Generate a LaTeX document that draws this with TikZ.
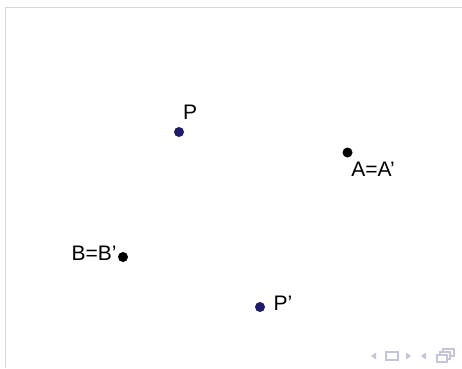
\documentclass[tikz,border=0pt]{standalone}
\usepackage{fontspec}
\setmainfont{Liberation Sans}
\definecolor{navy}{HTML}{1E1A6E}
\definecolor{frame}{HTML}{D8D8D8}
\definecolor{navsym}{HTML}{C4C4DC}
\begin{document}
\begin{tikzpicture}[x=1pt,y=-1pt,
  lbl/.style={inner sep=0pt,font=\fontsize{21}{23}\selectfont},
  dotpt/.style={circle,fill=#1,inner sep=0pt,minimum size=10pt},
  nav/.style={fill=navsym,draw=none}]
\useasboundingbox (0,0) rectangle (462,368);
\fill[white] (0,0) rectangle (462,368);
\draw[frame,line width=1.2pt] (5.5,368) -- (5.5,7.5) -- (462,7.5);
% points
\node[dotpt=navy] (p) at (179,132) {};
\node[lbl] (pl) at (190,112) {P};
\node[dotpt=black] (a) at (347.5,152.5) {};
\node[lbl] (al) at (373,169) {A=A’};
\node[dotpt=black] (b) at (123,257) {};
\node[lbl] (bl) at (94,253) {B=B’};
\node[dotpt=navy] (pp) at (260,307) {};
\node[lbl] (ppl) at (283,303) {P’};
% navigation symbols
\fill[nav] (371,356) -- (376,352.5) -- (376,359.5) -- cycle;
\draw[navsym,line width=1.2pt] (386,352) rectangle (398,360);
\fill[nav] (411,356) -- (406,352.5) -- (406,359.5) -- cycle;
\fill[nav] (421,356) -- (426,352.5) -- (426,359.5) -- cycle;
\draw[navsym,line width=1.2pt] (437,355) rectangle (447,362);
\draw[navsym,line width=1.2pt] (440,355) -- (440,352) -- (450,352) -- (450,359) -- (447,359);
\draw[navsym,line width=1.2pt] (443,352) -- (443,349) -- (454,349) -- (454,356) -- (450,356);
\end{tikzpicture}
\end{document}
